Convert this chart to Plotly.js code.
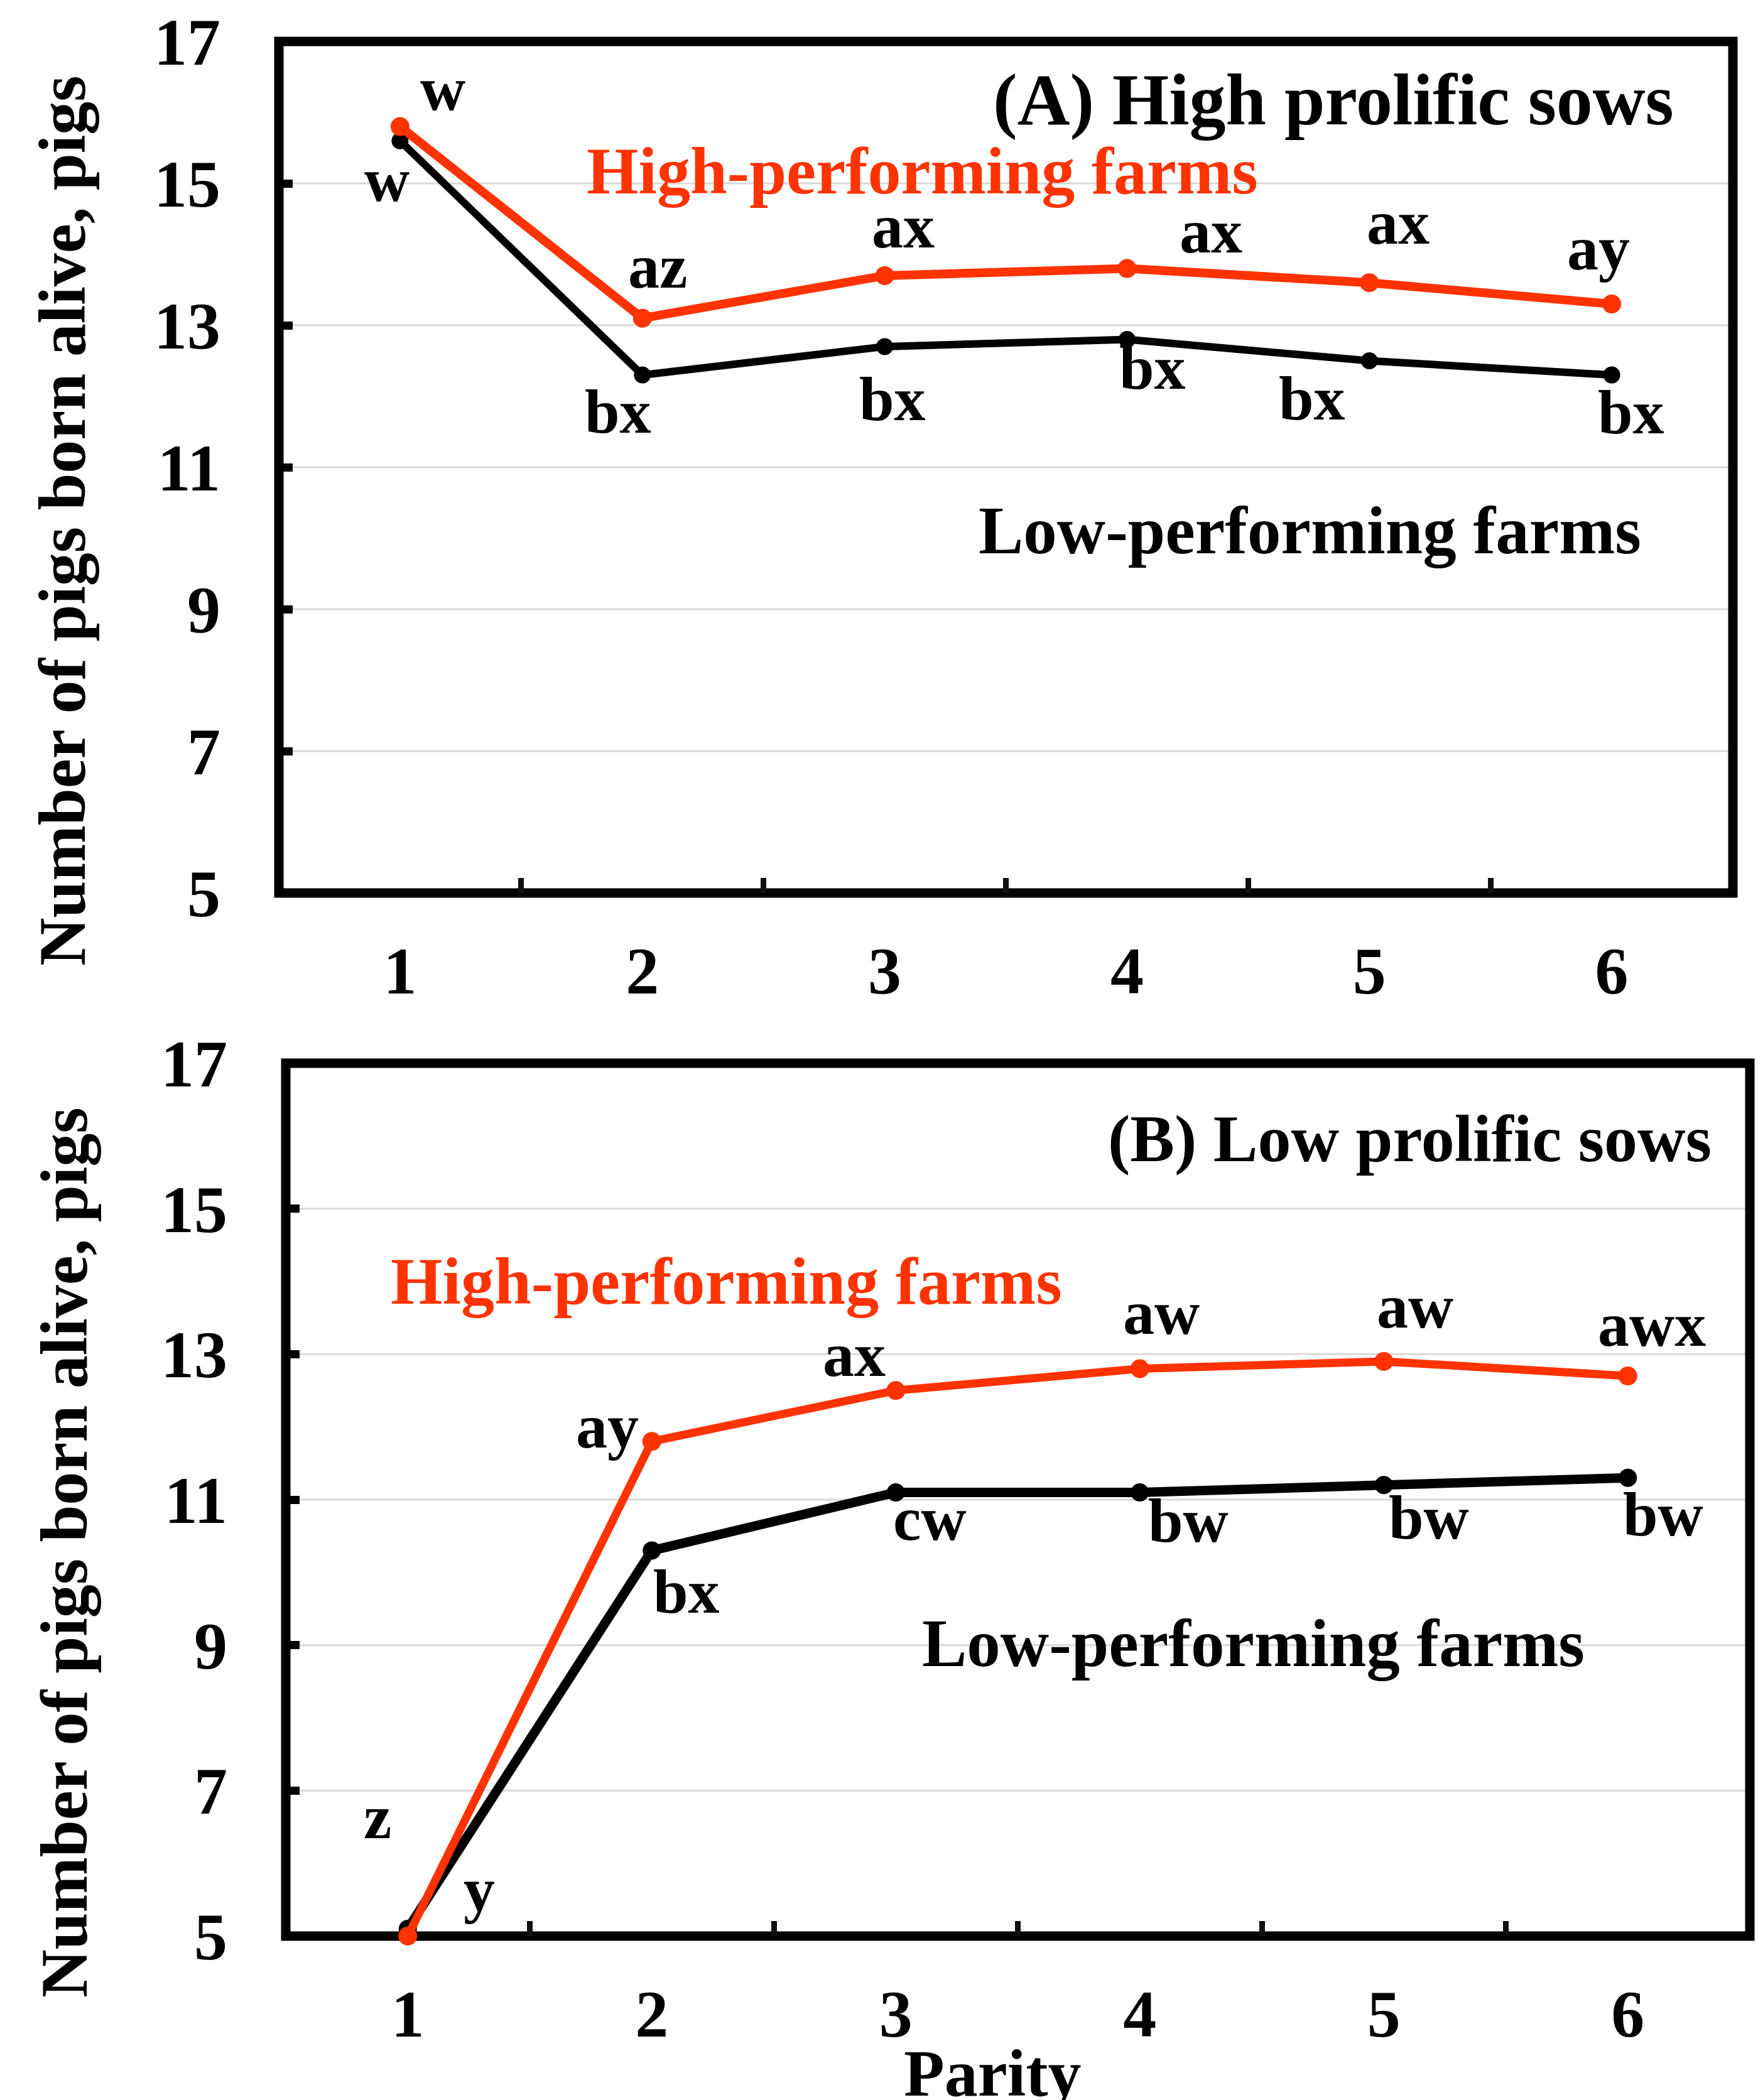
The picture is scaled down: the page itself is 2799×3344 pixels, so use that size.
<!DOCTYPE html>
<html><head><meta charset="utf-8">
<script src="https://cdn.plot.ly/plotly-3.0.1.min.js"></script>
<style>html,body{margin:0;padding:0;background:#fff}</style>
</head><body><div id="chart" style="width:2799px;height:3344px"></div>
<script>
// ---------- data ----------
const parity = ['1','2','3','4','5','6'];
const highProlificHighFarms = [15.8, 13.1, 13.7, 13.8, 13.6, 13.3];
const highProlificLowFarms  = [15.6, 12.3, 12.7, 12.8, 12.5, 12.3];
const lowProlificHighFarms  = [5.0, 11.8, 12.5, 12.8, 12.9, 12.7];
const lowProlificLowFarms   = [5.1, 10.3, 11.1, 11.1, 11.2, 11.3];
const lettersAHigh = ['w','az','ax','ax','ax','ay'];
const lettersALow  = ['w','bx','bx','bx','bx','bx'];
const lettersBHigh = ['z','ay','ax','aw','aw','awx'];
const lettersBLow  = ['y','bx','cw','bw','bw','bw'];
const yTicks = [5, 7, 9, 11, 13, 15, 17];

// ---------- layout helpers ----------
const W = 2799, H = 3344;
const fx = p => p / W;
const fy = p => 1 - p / H;
const FONT = 'Liberation Serif, Times New Roman, serif';
const RED = '#ff3300';

// label offsets in px (dx right, dy down) from each point
const offAHigh = [[68,-60],[24,-82],[29,-78],[134,-59],[46,-96],[-21,-89]];
const offALow  = [[-21,62],[-39,58],[12,84],[41,45],[-91,60],[31,59]];
const offBHigh = [[-48,-190],[-71,-24],[-66,-57],[34,-89],[50,-87],[38,-82]];
const offBLow  = [[114,-62],[55,65],[54,42],[77,45],[72,52],[56,58]];

function trace(y, color, lw, ms, xa, ya) {
  return {x: parity, y: y, type: 'scatter', mode: 'lines+markers',
    line: {color: color, width: lw}, marker: {color: color, size: ms},
    cliponaxis: false, xaxis: xa, yaxis: ya, hoverinfo: 'skip'};
}
const data = [
  trace(highProlificLowFarms, '#000', 12, 27, 'x', 'y'),
  trace(highProlificHighFarms, RED, 14, 30, 'x', 'y'),
  trace(lowProlificLowFarms, '#000', 15, 29, 'x2', 'y2'),
  trace(lowProlificHighFarms, RED, 13, 30, 'x2', 'y2')
];

const annotations = [];
function letters(arr, vals, offs, xr, yr) {
  arr.forEach((t, i) => annotations.push({
    text: t, x: i, y: vals[i], xref: xr, yref: yr,
    xshift: offs[i][0], yshift: -offs[i][1], showarrow: false,
    xanchor: 'center', yanchor: 'middle',
    font: {family: FONT, size: 100, color: '#000', weight: 'bold'}
  }));
}
letters(lettersAHigh, highProlificHighFarms, offAHigh, 'x', 'y');
letters(lettersALow, highProlificLowFarms, offALow, 'x', 'y');
letters(lettersBHigh, lowProlificHighFarms, offBHigh, 'x2', 'y2');
letters(lettersBLow, lowProlificLowFarms, offBLow, 'x2', 'y2');

function txt(t, px, py, size, color, angle) {
  annotations.push({text: t, x: fx(px), y: fy(py), xref: 'paper', yref: 'paper',
    showarrow: false, xanchor: 'center', yanchor: 'middle', textangle: angle || 0,
    font: {family: FONT, size: size, color: color, weight: 'bold'}});
}
txt('(A) High prolific sows', 2123, 159, 116, '#000');
txt('High-performing farms', 1469, 273, 106, RED);
txt('Low-performing farms', 2085, 845, 107, '#000');
txt('(B) Low prolific sows', 2244, 1813, 106, '#000');
txt('High-performing farms', 1156, 2040, 106, RED);
txt('Low-performing farms', 1995, 2617, 107, '#000');
txt('Number of pigs born alive, pigs', 100, 830, 106, '#000', -90);
txt('Number of pigs born alive, pigs', 102, 2473, 106, '#000', -90);
txt('Parity', 1580, 3301, 106, '#000');

const tickFont = {family: FONT, size: 106, color: '#000', weight: 'bold'};
function xax(d0, d1, anchor) {
  return {type: 'category', domain: [fx(d0), fx(d1)], range: [-0.5, 5.5],
    tickson: 'boundaries', ticks: 'inside', ticklen: 24, tickwidth: 9, tickcolor: '#111',
    showgrid: false, zeroline: false, showline: false, tickfont: tickFont,
    ticklabelstandoff: 53, anchor: anchor, fixedrange: true};
}
function yax(top, bottom, anchor) {
  return {domain: [fy(bottom), fy(top)], range: [5, 17], tickvals: yTicks,
    ticks: 'inside', ticklen: 22, tickwidth: 13, tickcolor: '#000',
    showgrid: false, zeroline: false, showline: false,
    tickfont: tickFont, ticklabelstandoff: 92, anchor: anchor, fixedrange: true};
}
const shapes = [];
// light gridlines at interior y ticks (below the frame)
function grid(xr, yr) {
  yTicks.slice(1, -1).forEach(v => shapes.push({type: 'line', xref: xr + ' domain', yref: yr,
    x0: 0, x1: 1, y0: v, y1: v, line: {color: '#d9d9d9', width: 3}, layer: 'below'}));
}
function border(xr, yr) {
  shapes.push({type: 'rect', xref: xr + ' domain', yref: yr + ' domain', x0: 0, x1: 1, y0: 0, y1: 1,
    line: {color: '#000', width: 15}, fillcolor: 'rgba(0,0,0,0)', layer: 'below'});
}
grid('x', 'y'); grid('x2', 'y2');
border('x', 'y'); border('x2', 'y2');

const layout = {
  width: W, height: H, margin: {l: 0, r: 0, t: 0, b: 0},
  paper_bgcolor: '#fff', plot_bgcolor: '#fff', showlegend: false,
  xaxis: xax(444, 2759, 'y'), yaxis: yax(66, 1422, 'x'),
  xaxis2: xax(455, 2786, 'y2'), yaxis2: yax(1693, 3083, 'x2'),
  shapes: shapes,
  annotations: annotations
};
Plotly.newPlot('chart', data, layout, {staticPlot: true, displayModeBar: false});
</script></body></html>
